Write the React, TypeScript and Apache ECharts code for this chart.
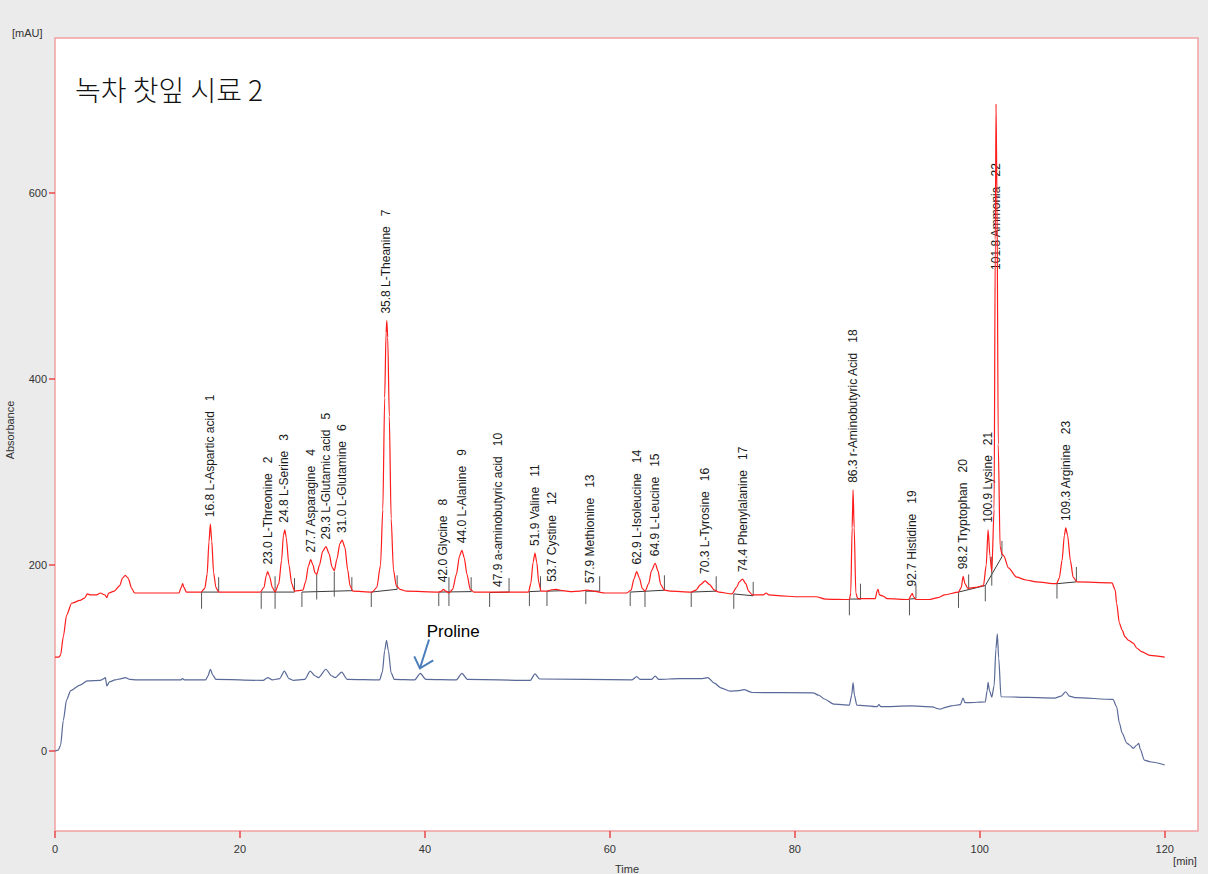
import React, { useEffect, useRef } from "react";
import * as echarts from "echarts";

const titleText = "녹차 찻잎 시료 2";
const yUnit = "[mAU]";
const yName = "Absorbance";
const xName = "Time";
const xUnit = "[min]";

const xTicks = [0, 20, 40, 60, 80, 100, 120];
const yTicks = [0, 200, 400, 600];
const xMin = 0;
const xMax = 123.6;
const yMin = -86;
const yMax = 767;

// red trace: sample chromatogram (time min, mAU)
const redTrace: number[][] = [
  [0, 101], [0.4, 101], [0.6, 103], [0.9, 123], [1.25, 146], [1.8, 159], [2.7, 162], [3.2, 164.5], [3.5, 169], [3.8, 168], [4.5, 168], [4.9, 170], [5.4, 168], [5.6, 165], [5.8, 170], [6.4, 172], [7.0, 178], [7.3, 186], [7.6, 189], [7.9, 186], [8.3, 175], [8.6, 170], [9.5, 170], [13.4, 170], [13.65, 176], [13.8, 180], [13.95, 176], [14.2, 171], [15.8, 171],
  [16.2, 175], [16.45, 190], [16.65, 225], [16.8, 244], [16.95, 226], [17.15, 192], [17.4, 176], [17.7, 171],
  [22.2, 171], [22.6, 176], [22.85, 189], [23.0, 193], [23.2, 188], [23.5, 176], [23.8, 171],
  [24.2, 180], [24.5, 205], [24.7, 232], [24.85, 238], [25.0, 230], [25.3, 200], [25.6, 180], [25.9, 172],
  [26.8, 173], [27.1, 182], [27.4, 199], [27.65, 206], [27.9, 200], [28.1, 192], [28.3, 190],
  [28.6, 200], [28.95, 215], [29.3, 220], [29.65, 212], [29.95, 198], [30.2, 194],
  [30.5, 207], [30.8, 223], [31.05, 227], [31.35, 219], [31.65, 195], [31.9, 178], [32.2, 172], [34.3, 171],
  [34.8, 176], [35.2, 200], [35.45, 260], [35.65, 380], [35.8, 450], [35.88, 463], [35.98, 445], [36.15, 360], [36.35, 250], [36.6, 195], [36.9, 178], [37.3, 174], [38.0, 172], [41.5, 171], [41.8, 172], [42.0, 174], [42.25, 172], [42.6, 170],
  [43.0, 174], [43.4, 190], [43.75, 210], [44.0, 216], [44.25, 208], [44.55, 190], [44.9, 174], [45.3, 171], [51.2, 171],
  [51.45, 180], [51.7, 203], [51.9, 213], [52.1, 203], [52.3, 182], [52.55, 172], [53.2, 172], [53.7, 173.5], [54.2, 174], [54.9, 172.5], [55.7, 171.5], [56.8, 172], [57.5, 173], [58.2, 172], [59.5, 170], [61.8, 170],
  [62.3, 173], [62.6, 185], [62.9, 193], [63.2, 186], [63.5, 175], [63.8, 172], [64.2, 180], [64.5, 194], [64.9, 202], [65.2, 194], [65.5, 179], [65.9, 173], [66.5, 172], [68.8, 171],
  [69.3, 173], [69.8, 179], [70.3, 183], [70.8, 179], [71.3, 173], [71.8, 171], [73.2, 169],
  [73.7, 176], [74.0, 182], [74.35, 185], [74.7, 180], [75.0, 172], [75.4, 168], [76.6, 168], [76.9, 170], [77.2, 168], [78.5, 167], [80, 166], [82.3, 166], [83.3, 163.5], [85.9, 163],
  [86.05, 170], [86.2, 240], [86.3, 281], [86.42, 240], [86.6, 170], [86.8, 164], [88.7, 164], [88.9, 172], [89.0, 174], [89.15, 168], [89.5, 167], [90.0, 164], [92.3, 163], [92.6, 168], [92.7, 169.5], [92.85, 166], [93.1, 163], [94.5, 163], [95.5, 165], [96.2, 168], [97.7, 171],
  [98.0, 176], [98.2, 188], [98.4, 180], [98.7, 175], [99.5, 176], [100.4, 178], [100.7, 200], [100.9, 238], [101.1, 210], [101.3, 193], [101.55, 260], [101.68, 550], [101.76, 696], [101.86, 600], [102.0, 330], [102.2, 220], [102.4, 212], [102.6, 210], [103.1, 197], [104, 187], [105, 184], [106.1, 182], [108.3, 180],
  [108.6, 186], [108.9, 205], [109.15, 232], [109.3, 240], [109.5, 232], [109.8, 205], [110.1, 187], [110.5, 182], [114.3, 181], [114.65, 173], [114.8, 159], [115.1, 137.6], [115.4, 130], [115.7, 123], [116.1, 119], [116.6, 116], [117.0, 110.6], [117.5, 107], [118.4, 103], [120, 101],
];

// blue trace: second chromatogram
const blueTrace: number[][] = [
  [0, 0], [0.35, 1], [0.6, 6], [0.9, 33], [1.25, 55], [1.7, 65], [2.7, 71], [3.5, 75.5], [4.9, 76], [5.3, 78], [5.45, 79], [5.6, 70], [5.9, 74.5], [6.5, 76.5], [7.2, 78], [7.6, 79], [8.1, 77], [8.8, 76.5], [13.6, 76.5], [13.8, 78], [14.0, 76.5],
  [16.3, 76.5], [16.55, 81], [16.8, 88], [17.05, 82], [17.4, 77], [22.5, 76], [23.0, 79], [23.5, 76.5], [24.3, 78], [24.8, 86], [25.3, 78], [25.8, 76], [27.0, 77], [27.6, 86], [28.1, 81], [28.5, 79], [29.3, 88], [29.9, 81], [30.3, 79], [31.0, 85], [31.6, 77],
  [35.1, 76.5], [35.4, 85], [35.65, 108], [35.85, 119], [36.05, 108], [36.35, 84], [36.7, 77], [38.9, 76.5], [39.5, 83.5], [40.1, 77], [43.4, 76.5], [44.0, 83.5], [44.6, 77], [51.4, 76], [51.9, 83], [52.4, 77.5],
  [62.4, 76.5], [62.9, 80], [63.3, 77], [64.5, 77], [64.9, 80.6], [65.3, 77], [67.5, 78], [70.0, 78], [70.6, 79], [71.3, 73], [72.0, 68], [73.0, 64.5], [74.0, 65], [74.5, 66], [75.4, 63], [82.0, 62.5], [82.6, 60], [83.2, 56], [84.2, 50.5], [85.9, 49.5],
  [86.15, 60], [86.3, 73.5], [86.45, 60], [86.7, 49.5], [88.9, 47.7], [89.1, 50], [89.3, 47.7], [92.5, 48.5], [94.9, 47.5], [95.3, 46], [95.7, 45], [96.3, 47], [96.9, 48.5], [97.9, 50], [98.2, 57], [98.4, 52], [98.8, 52], [100.6, 53],
  [100.8, 65], [100.9, 74], [101.05, 65], [101.3, 58], [101.55, 70], [101.75, 110], [101.9, 126], [102.05, 100], [102.3, 58.4], [108.1, 57], [108.8, 59], [109.3, 63.8], [109.7, 59], [110.3, 57.5], [114.4, 55.5],
  [114.8, 47.7], [115.1, 30], [115.4, 19.3], [115.9, 8.6], [116.2, 6.5], [116.6, 2.8], [117.0, 6.5], [117.2, 8.2], [117.35, 2], [117.8, -9.7], [118.4, -11.5], [120, -15],
];

const peakTimes = [16.8, 23.0, 24.8, 27.7, 29.3, 31.0, 35.8, 42.0, 44.0, 47.9, 51.9, 53.7, 57.9, 62.9, 64.9, 70.3, 74.4, 86.3, 92.7, 98.2, 100.9, 101.8, 109.3];
const peakNames = [
  "L-Aspartic acid", "L-Threonine", "L-Serine", "Asparagine", "L-Glutamic acid", "L-Glutamine", "L-Theanine", "Glycine", "L-Alanine",
  "a-aminobutyric acid", "Valine", "Cystine", "Methionine", "L-Isoleucine", "L-Leucine", "L-Tyrosine", "Phenylalanine",
  "r-Aminobutyric Acid", "Histidine", "Tryptophan", "Lysine", "Ammonia", "Arginine",
];
const peakNumbers = [1, 2, 3, 4, 5, 6, 7, 8, 9, 10, 11, 12, 13, 14, 15, 16, 17, 18, 19, 20, 21, 22, 23];
const peakApex = [244, 193, 238, 206, 220, 227, 463, 174, 216, 169, 213, 174.5, 173, 193, 202, 183, 185, 281, 169.5, 188, 238, 696, 240];
const labelCap = 510;

// integration baselines [tStart, vStart, tEnd, vEnd]
const baselineSegments: number[][] = [
  [15.85, 171, 17.7, 171], [22.3, 171, 25.9, 171], [26.7, 171, 32.1, 172.5], [34.2, 171, 37.0, 174],
  [41.5, 171, 45.0, 171.5], [47.0, 170.5, 49.1, 171], [51.3, 171.5, 52.5, 172], [53.2, 172, 55.0, 172.5],
  [57.4, 172, 58.9, 172], [62.2, 171, 65.9, 173], [68.8, 171, 71.5, 172], [73.4, 169, 75.5, 167],
  [85.9, 163.5, 87.1, 163.5], [92.4, 163.5, 93.1, 164], [97.7, 171, 100.6, 178], [100.6, 178, 102.4, 209],
  [108.35, 180, 110.45, 182],
];
// integration event marks [t, vFrom, vTo]
const integrationTicks: number[][] = [
  [15.85, 171, 153], [17.7, 171, 187], [22.3, 171, 153], [23.8, 188, 153], [25.9, 171, 186], [26.7, 171, 155],
  [28.3, 190, 163], [30.2, 193, 166], [32.1, 172, 187], [34.2, 171, 155], [37.0, 174, 189],
  [41.5, 170, 156], [42.6, 187, 156], [45.0, 171, 187], [47.0, 170, 155], [49.1, 171, 186], [51.3, 172, 156],
  [52.5, 172, 188], [53.2, 172, 156], [57.4, 172, 158], [58.9, 172, 188], [62.2, 171, 156], [63.8, 172, 155],
  [65.9, 173, 189], [68.8, 171, 155], [71.5, 172, 188], [73.4, 169, 153], [75.5, 167, 182],
  [85.9, 163, 146], [87.1, 163, 180], [92.4, 163, 146], [93.1, 164, 179], [97.7, 171, 154], [98.8, 175, 190],
  [100.6, 178, 161], [101.3, 209, 178], [102.4, 209, 226], [108.35, 180, 164], [110.45, 182, 198],
];

const prolineText = "Proline";
const prolineTextAt = [40.2, 129];
const prolineShaft = [[40.45, 120], [39.46, 89]];
const prolineHead = [[38.85, 101.8], [39.46, 89], [40.9, 97.5]];

const RED = "#ff1c1c";
const BLUE = "#5a6a98";
const INTEG = "#3a3a3a";
const BORDER = "#f2a0a0";
const TICK = "#e84848";
const SMALL_FONT = '11px "Liberation Sans", Arial, sans-serif';

export default function App() {
  const ref = useRef<HTMLDivElement>(null);
  useEffect(() => {
    if (!ref.current) return;
    const chart = echarts.init(ref.current, undefined, { renderer: "svg" });
    const labelTexts = peakTimes.map((t, i) => `${t.toFixed(1)} ${peakNames[i]}   ${peakNumbers[i]}`);
    chart.setOption({
      animation: false,
      backgroundColor: "#ebebeb",
      grid: { left: 55, top: 38, right: 10, bottom: 43, show: true, backgroundColor: "#ffffff", borderColor: BORDER, borderWidth: 1.5 },
      xAxis: {
        type: "value", min: xMin, max: xMax, position: "bottom",
        axisLine: { show: false, onZero: false },
        axisTick: { show: false },
        axisLabel: { customValues: xTicks, color: "#333", fontSize: 11, fontFamily: '"Liberation Sans", Arial', margin: 12 },
        splitLine: { show: false },
      },
      yAxis: {
        type: "value", min: yMin, max: yMax, position: "left",
        axisLine: { show: false, onZero: false },
        axisTick: { show: false },
        axisLabel: { customValues: yTicks, color: "#333", fontSize: 11, fontFamily: '"Liberation Sans", Arial', margin: 8 },
        splitLine: { show: false },
      },
      series: [
        {
          type: "custom", name: "baselines", silent: true, encode: { x: [0, 2], y: [1, 3] }, data: baselineSegments,
          renderItem: (p: any, api: any) => {
            const a = api.coord([api.value(0), api.value(1)]);
            const b = api.coord([api.value(2), api.value(3)]);
            return { type: "line", shape: { x1: a[0], y1: a[1], x2: b[0], y2: b[1] }, style: { stroke: INTEG, lineWidth: 1 } };
          },
        },
        {
          type: "custom", name: "ticks", silent: true, encode: { x: 0, y: [1, 2] }, data: integrationTicks,
          renderItem: (p: any, api: any) => {
            const a = api.coord([api.value(0), api.value(1)]);
            const b = api.coord([api.value(0), api.value(2)]);
            return { type: "line", shape: { x1: a[0], y1: a[1], x2: b[0], y2: b[1] }, style: { stroke: "#555", lineWidth: 1 } };
          },
        },
        {
          type: "line", name: "blue", data: blueTrace, showSymbol: false, symbol: "none", smooth: 0.25, smoothMonotone: "x",
          lineStyle: { color: BLUE, width: 1.2 }, silent: true,
        },
        {
          type: "line", name: "red", data: redTrace, showSymbol: false, symbol: "none", smooth: 0.25, smoothMonotone: "x",
          lineStyle: { color: RED, width: 1.2 }, silent: true,
        },
        {
          type: "custom", name: "labels", silent: true, encode: { x: 0, y: 1 },
          data: peakTimes.map((t, i) => [t, peakApex[i], i]),
          renderItem: (p: any, api: any) => {
            const i = api.value(2);
            const c = api.coord([api.value(0), Math.min(api.value(1), labelCap)]);
            return {
              type: "text", x: c[0], y: c[1] - 7, rotation: Math.PI / 2,
              style: { text: labelTexts[i], fill: "#1a1a1a", font: '12px "Liberation Sans", Arial, sans-serif', align: "left", verticalAlign: "middle" },
            };
          },
        },
      ],
    });
    const px = (d: number[]) => chart.convertToPixel({ gridIndex: 0 }, d) as number[];
    const shaft = prolineShaft.map(px);
    const head = prolineHead.map(px);
    const pt = px(prolineTextAt);
    const bottomY = 831;
    const leftX = 55;
    const tickEls: any[] = [];
    xTicks.forEach((v) => {
      const x = Math.round(px([v, 0])[0]);
      tickEls.push({ type: "rect", z: 100, shape: { x: x - 0.75, y: bottomY, width: 1.5, height: 7 }, style: { fill: TICK } });
    });
    yTicks.forEach((v) => {
      const y = Math.round(px([0, v])[1]);
      tickEls.push({ type: "rect", z: 100, shape: { x: leftX - 6, y: y - 0.75, width: 6, height: 1.5 }, style: { fill: TICK } });
    });
    chart.setOption({
      graphic: [
        { type: "text", x: 75, y: 89, style: { text: titleText, font: '300 28px "Noto Sans CJK KR", sans-serif', fill: "#111", verticalAlign: "middle" } },
        { type: "text", x: 12, y: 33, style: { text: yUnit, font: SMALL_FONT, fill: "#333", verticalAlign: "middle" } },
        { type: "text", x: 10, y: 430, rotation: Math.PI / 2, style: { text: yName, font: SMALL_FONT, fill: "#333", align: "center", verticalAlign: "middle" } },
        { type: "text", x: 627, y: 869, style: { text: xName, font: SMALL_FONT, fill: "#333", align: "center", verticalAlign: "middle" } },
        { type: "text", x: 1185, y: 861, style: { text: xUnit, font: SMALL_FONT, fill: "#333", align: "center", verticalAlign: "middle" } },
        { type: "text", x: pt[0], y: pt[1], style: { text: prolineText, font: '17px "Liberation Sans", Arial, sans-serif', fill: "#000", verticalAlign: "middle" } },
        { type: "polyline", shape: { points: shaft }, style: { stroke: "#4a7ebb", lineWidth: 2, fill: null } },
        { type: "polyline", shape: { points: head }, style: { stroke: "#4a7ebb", lineWidth: 2, fill: null } },
        ...tickEls,
      ],
    });
    return () => chart.dispose();
  }, []);
  return (
    <div style={{ position: "fixed", left: 0, top: 0, width: 1208, height: 874 }}>
      <div ref={ref} style={{ width: 1208, height: 874 }} />
    </div>
  );
}
